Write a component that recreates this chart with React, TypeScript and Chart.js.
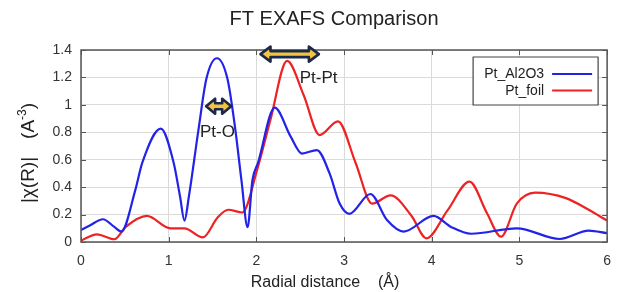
import React, { useEffect, useRef } from 'react';
import { Chart, registerables } from 'chart.js';

Chart.register(...registerables);

const FONT = '"Liberation Sans", Arial, sans-serif';

const seriesNames = ['Pt_Al2O3', 'Pt_foil'];
const seriesColors = ['#2222e8', '#ee2222'];

const al2o3X = [0.0, 0.1, 0.25, 0.38, 0.46, 0.62, 0.7, 0.91, 1.056, 1.13, 1.18, 1.23, 1.34, 1.43, 1.55, 1.67, 1.76, 1.83, 1.9, 1.955, 2.02, 2.21, 2.39, 2.52, 2.69, 2.835, 2.95, 3.06, 3.3, 3.49, 3.68, 4.02, 4.22, 4.45, 4.97, 5.46, 5.79, 6.0];
const al2o3Y = [0.088, 0.12, 0.166, 0.11, 0.076, 0.38, 0.58, 0.826, 0.58, 0.33, 0.156, 0.33, 0.82, 1.19, 1.34, 1.19, 0.82, 0.45, 0.108, 0.45, 0.58, 0.98, 0.77, 0.645, 0.67, 0.5, 0.28, 0.205, 0.35, 0.16, 0.076, 0.19, 0.11, 0.06, 0.1, 0.022, 0.083, 0.064];

const foilX = [0.0, 0.18, 0.38, 0.51, 0.75, 1.02, 1.18, 1.39, 1.56, 1.68, 1.84, 2.01, 2.16, 2.35, 2.54, 2.72, 2.93, 3.13, 3.32, 3.53, 3.77, 3.94, 4.18, 4.43, 4.63, 4.79, 4.97, 5.18, 5.53, 5.79, 6.0];
const foilY = [0.01, 0.056, 0.02, 0.11, 0.19, 0.1, 0.1, 0.034, 0.18, 0.235, 0.215, 0.53, 0.89, 1.32, 1.07, 0.78, 0.88, 0.58, 0.28, 0.34, 0.19, 0.027, 0.23, 0.44, 0.21, 0.039, 0.28, 0.36, 0.32, 0.235, 0.156];

const xTicks = [0, 1, 2, 3, 4, 5, 6];
const yTicks = [0, 0.2, 0.4, 0.6, 0.8, 1.0, 1.2, 1.4];
const yTickLabels = ['0', '0.2', '0.4', '0.6', '0.8', '1', '1.2', '1.4'];

const titleText = 'FT EXAFS Comparison';
const xTitle = 'Radial distance    (Å)';
const yTitleMain = '|χ(R)|';
const yTitleUnit = '(A';
const yTitleSup = '-3';

// annotation arrows in data units
const arrowLabels = ['Pt-O', 'Pt-Pt'];
const arrowX0 = [1.41, 2.03];
const arrowX1 = [1.73, 2.73];
const arrowY = [0.99, 1.37];
const labelX = [1.556, 2.71];
const labelY = [0.8, 1.19];

function toPoints(xs: number[], ys: number[]) {
  return xs.map((x, i) => ({ x, y: ys[i] }));
}

function drawArrow(ctx: CanvasRenderingContext2D, x0: number, x1: number, y: number, headLen: number, headH: number, shaftH: number) {
  ctx.beginPath();
  ctx.moveTo(x0, y);
  ctx.lineTo(x0 + headLen, y - headH / 2);
  ctx.lineTo(x0 + headLen, y - shaftH / 2);
  ctx.lineTo(x1 - headLen, y - shaftH / 2);
  ctx.lineTo(x1 - headLen, y - headH / 2);
  ctx.lineTo(x1, y);
  ctx.lineTo(x1 - headLen, y + headH / 2);
  ctx.lineTo(x1 - headLen, y + shaftH / 2);
  ctx.lineTo(x0 + headLen, y + shaftH / 2);
  ctx.lineTo(x0 + headLen, y + headH / 2);
  ctx.closePath();
  ctx.fillStyle = '#f3c440';
  ctx.fill();
  ctx.lineJoin = 'round';
  ctx.lineWidth = 2.6;
  ctx.strokeStyle = '#1c2a48';
  ctx.stroke();
}

const overlayPlugin = {
  id: 'overlay',
  afterDatasetsDraw(chart: any) {
    const ctx: CanvasRenderingContext2D = chart.ctx;
    const { left, right, top, bottom } = chart.chartArea;
    const xs = chart.scales.x;
    const ys = chart.scales.y;
    ctx.save();
    // inner tick marks
    ctx.strokeStyle = '#555';
    ctx.lineWidth = 1;
    xTicks.forEach((t) => {
      const px = Math.round(xs.getPixelForValue(t)) + 0.5;
      ctx.beginPath();
      ctx.moveTo(px, bottom);
      ctx.lineTo(px, bottom - 5);
      ctx.moveTo(px, top);
      ctx.lineTo(px, top + 5);
      ctx.stroke();
    });
    yTicks.forEach((t) => {
      const py = Math.round(ys.getPixelForValue(t)) + 0.5;
      ctx.beginPath();
      ctx.moveTo(left, py);
      ctx.lineTo(left + 5, py);
      ctx.moveTo(right, py);
      ctx.lineTo(right - 5, py);
      ctx.stroke();
    });
    // frame
    ctx.strokeStyle = '#555';
    ctx.lineWidth = 1.5;
    ctx.strokeRect(left, top, right - left, bottom - top);

    // arrows and labels
    arrowLabels.forEach((lab, i) => {
      const a = xs.getPixelForValue(arrowX0[i]);
      const b = xs.getPixelForValue(arrowX1[i]);
      const y = ys.getPixelForValue(arrowY[i]);
      const big = i === 1;
      drawArrow(ctx, a + 1.5, b - 1.5, y, big ? 10 : 9, 15, 6);
      ctx.fillStyle = '#222';
      ctx.font = `17px ${FONT}`;
      ctx.textAlign = 'center';
      ctx.textBaseline = 'middle';
      ctx.fillText(lab, xs.getPixelForValue(labelX[i]), ys.getPixelForValue(labelY[i]));
    });

    // legend
    const lx = right - 134;
    const ly = top + 7;
    const lw = 125;
    const lh = 48;
    ctx.fillStyle = '#fff';
    ctx.fillRect(lx, ly, lw, lh);
    ctx.strokeStyle = '#444';
    ctx.lineWidth = 1.2;
    ctx.strokeRect(lx, ly, lw, lh);
    ctx.font = `14px ${FONT}`;
    ctx.textAlign = 'right';
    ctx.textBaseline = 'middle';
    chart.data.datasets.forEach((ds: any, i: number) => {
      const cy = ly + 17 + i * 16.5;
      ctx.fillStyle = '#222';
      ctx.fillText(ds.label, lx + 71, cy + 0.5);
      ctx.strokeStyle = ds.borderColor;
      ctx.lineWidth = 2.2;
      ctx.beginPath();
      ctx.moveTo(lx + 79, cy);
      ctx.lineTo(lx + 119, cy);
      ctx.stroke();
    });
    ctx.restore();
  },
  afterDraw(chart: any) {
    const ctx: CanvasRenderingContext2D = chart.ctx;
    const { left, right, top, bottom } = chart.chartArea;
    ctx.save();
    ctx.fillStyle = '#222';
    ctx.textBaseline = 'middle';
    ctx.textAlign = 'center';
    // title
    ctx.font = `20px ${FONT}`;
    ctx.fillText(titleText, (left + right) / 2 - 10, 19);
    // x title
    ctx.font = `16px ${FONT}`;
    ctx.fillText(xTitle, (left + right) / 2 - 19, 283);
    // y title (rotated, with superscript)
    ctx.translate(29, (top + bottom) / 2 + 7);
    ctx.rotate(-Math.PI / 2);
    ctx.textAlign = 'left';
    const mainFont = `19px ${FONT}`;
    const supFont = `12px ${FONT}`;
    ctx.font = mainFont;
    const wMain = ctx.measureText(yTitleMain).width;
    const wUnit = ctx.measureText(yTitleUnit).width;
    const wClose = ctx.measureText(')').width;
    ctx.font = supFont;
    const wSup = ctx.measureText(yTitleSup).width;
    const gap = 18;
    const total = wMain + gap + wUnit + wSup + wClose;
    let cx = -total / 2;
    ctx.font = mainFont;
    ctx.fillText(yTitleMain, cx, 0);
    cx += wMain + gap;
    ctx.fillText(yTitleUnit, cx, 0);
    cx += wUnit;
    ctx.font = supFont;
    ctx.fillText(yTitleSup, cx, -6);
    cx += wSup;
    ctx.font = mainFont;
    ctx.fillText(')', cx, 0);
    ctx.restore();
  },
};

export default function App() {
  const ref = useRef<HTMLCanvasElement | null>(null);
  useEffect(() => {
    if (!ref.current) return;
    const chart = new Chart(ref.current, {
      type: 'line',
      data: {
        datasets: [
          {
            label: seriesNames[0],
            data: toPoints(al2o3X, al2o3Y),
            borderColor: seriesColors[0],
            borderWidth: 2.2,
            pointRadius: 0,
            cubicInterpolationMode: 'monotone',
            fill: false,
          },
          {
            label: seriesNames[1],
            data: toPoints(foilX, foilY),
            borderColor: seriesColors[1],
            borderWidth: 2.2,
            pointRadius: 0,
            cubicInterpolationMode: 'monotone',
            fill: false,
          },
        ],
      },
      options: {
        responsive: false,
        animation: false,
        layout: { padding: { top: 50, left: 0, right: 6, bottom: 0 } },
        plugins: {
          legend: { display: false },
          title: { display: false },
          tooltip: { enabled: false },
        },
        scales: {
          x: {
            type: 'linear',
            min: 0,
            max: 6,
            afterFit: (s: any) => { s.height = 50; },
            afterBuildTicks: (s: any) => { s.ticks = xTicks.map((v) => ({ value: v })); },
            grid: { color: '#dadada', lineWidth: 1, drawTicks: false },
            border: { display: false },
            ticks: {
              padding: 11,
              color: '#333',
              font: { family: FONT, size: 14 },
              callback: (v: any) => String(v),
            },
          },
          y: {
            type: 'linear',
            min: 0,
            max: 1.4,
            afterFit: (s: any) => { s.width = 81; },
            afterBuildTicks: (s: any) => { s.ticks = yTicks.map((v) => ({ value: v })); },
            grid: { color: '#dadada', lineWidth: 1, drawTicks: false },
            border: { display: false },
            ticks: {
              padding: 9,
              color: '#333',
              font: { family: FONT, size: 14 },
              callback: (v: any) => {
                const i = yTicks.findIndex((t) => Math.abs(t - v) < 1e-6);
                return i >= 0 ? yTickLabels[i] : '';
              },
            },
          },
        },
      },
      plugins: [overlayPlugin],
    } as any);
    return () => chart.destroy();
  }, []);
  return (
    <div style={{ position: 'fixed', left: 0, top: 0, width: 622, height: 292, background: '#fff' }}>
      <canvas ref={ref} width={622} height={292} style={{ display: 'block' }} />
    </div>
  );
}
